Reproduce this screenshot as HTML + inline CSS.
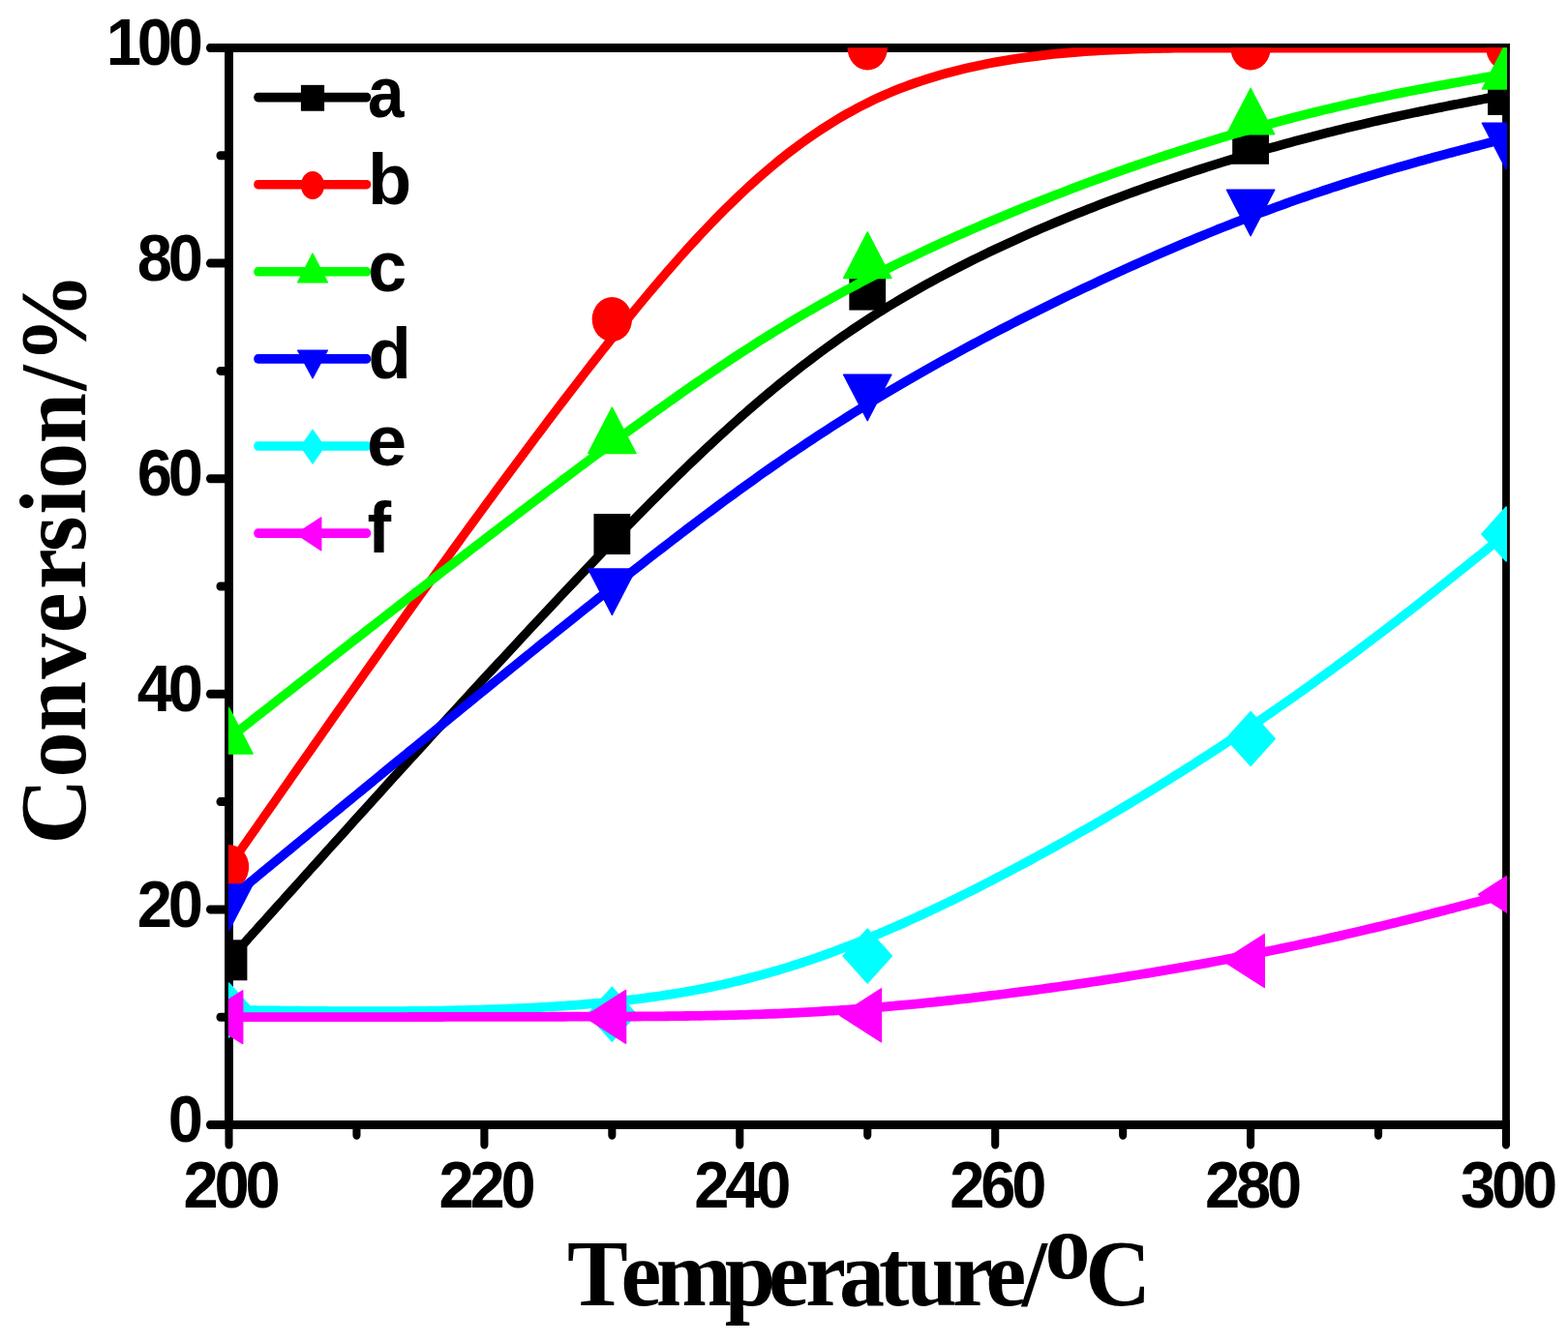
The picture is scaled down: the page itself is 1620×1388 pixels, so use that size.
<!DOCTYPE html>
<html><head><meta charset="utf-8"><title>Conversion vs Temperature</title>
<style>html,body{margin:0;padding:0;background:#fff;} body{width:1620px;height:1388px;position:relative;overflow:hidden;}</style>
</head><body>
<svg width="1620" height="1388" viewBox="0 0 1800.000 1388" preserveAspectRatio="none" style="position:absolute;left:0;top:0">
<defs><clipPath id="pc"><rect x="262.11" y="49.30" width="1467.89" height="1113.20"/></clipPath></defs>
<path d="M257.83,49.50H1733.22M257.83,1162.50H1733.22" fill="none" stroke="#000" stroke-width="9"/>
<path d="M262.78,45.00V1167.00" fill="none" stroke="#000" stroke-width="9.89"/>
<path d="M1728.89,45.00V1167.00" fill="none" stroke="#000" stroke-width="8.67"/>
<path d="M262.78,1162.50H241.11 M262.78,1051.20H252.78 M262.78,939.90H241.11 M262.78,828.60H252.78 M262.78,717.30H241.11 M262.78,606.00H252.78 M262.78,494.70H241.11 M262.78,383.40H252.78 M262.78,272.10H241.11 M262.78,160.80H252.78 M262.78,49.50H241.11 M262.78,1162.50V1183.00 M409.39,1162.50V1173.20 M556.00,1162.50V1183.00 M702.61,1162.50V1173.20 M849.22,1162.50V1183.00 M995.83,1162.50V1173.20 M1142.44,1162.50V1183.00 M1289.06,1162.50V1173.20 M1435.67,1162.50V1183.00 M1582.28,1162.50V1173.20 M1728.89,1162.50V1183.00" fill="none" stroke="#000" stroke-width="9" stroke-linecap="round"/>
<g clip-path="url(#pc)">
<path d="M262.78,992.32 L262.78,992.32 L262.78,992.32 L262.79,992.31 L262.80,992.30 L262.82,992.28 L262.85,992.25 L262.89,992.21 L262.95,992.15 L263.03,992.07 L263.12,991.98 L263.23,991.87 L263.36,991.74 L263.52,991.58 L263.71,991.39 L263.92,991.18 L264.17,990.93 L264.45,990.65 L264.76,990.34 L265.11,989.99 L265.49,989.60 L265.92,989.18 L266.39,988.70 L266.91,988.19 L267.47,987.63 L268.08,987.01 L268.74,986.35 L269.46,985.64 L270.23,984.86 L271.05,984.04 L271.94,983.15 L272.89,982.20 L273.90,981.19 L274.97,980.11 L276.12,978.97 L277.33,977.76 L278.61,976.47 L279.97,975.11 L281.40,973.68 L282.91,972.17 L284.50,970.58 L286.17,968.91 L287.92,967.15 L289.76,965.31 L291.69,963.38 L293.70,961.36 L295.81,959.25 L298.01,957.05 L300.31,954.75 L302.71,952.35 L305.20,949.85 L307.80,947.26 L310.50,944.55 L313.30,941.74 L316.22,938.83 L319.24,935.80 L322.38,932.66 L325.63,929.40 L328.99,926.03 L332.48,922.55 L336.08,918.94 L339.81,915.21 L343.65,911.36 L347.62,907.39 L351.69,903.31 L355.88,899.12 L360.18,894.83 L364.58,890.42 L369.08,885.92 L373.69,881.32 L378.39,876.62 L383.19,871.82 L388.08,866.94 L393.06,861.97 L398.13,856.91 L403.28,851.78 L408.51,846.56 L413.82,841.27 L419.21,835.91 L424.67,830.47 L430.20,824.97 L435.80,819.41 L441.47,813.78 L447.19,808.09 L452.98,802.35 L458.82,796.56 L464.72,790.72 L470.67,784.83 L476.67,778.90 L482.72,772.92 L488.80,766.91 L494.93,760.87 L501.10,754.79 L507.30,748.68 L513.54,742.54 L519.80,736.39 L526.09,730.21 L532.41,724.01 L538.75,717.80 L545.10,711.58 L551.47,705.35 L557.86,699.11 L564.26,692.87 L570.66,686.63 L577.08,680.39 L583.49,674.16 L589.90,667.93 L596.31,661.72 L602.72,655.52 L609.12,649.34 L615.50,643.18 L621.88,637.05 L628.23,630.94 L634.57,624.85 L640.89,618.80 L647.18,612.79 L653.44,606.81 L659.68,600.87 L665.88,594.98 L672.05,589.13 L678.18,583.33 L684.26,577.59 L690.31,571.89 L696.33,566.25 L702.30,560.65 L708.24,555.11 L714.14,549.62 L720.02,544.18 L725.86,538.79 L731.67,533.44 L737.45,528.15 L743.21,522.90 L748.94,517.70 L754.65,512.55 L760.33,507.44 L765.99,502.39 L771.63,497.38 L777.25,492.41 L782.86,487.49 L788.44,482.61 L794.02,477.78 L799.58,472.99 L805.12,468.25 L810.66,463.55 L816.19,458.90 L821.70,454.28 L827.22,449.71 L832.72,445.18 L838.22,440.69 L843.72,436.24 L849.22,431.84 L854.72,427.47 L860.22,423.14 L865.72,418.85 L871.23,414.61 L876.74,410.40 L882.26,406.22 L887.79,402.09 L893.32,397.99 L898.87,393.93 L904.43,389.91 L910.00,385.93 L915.59,381.97 L921.19,378.06 L926.81,374.18 L932.45,370.33 L938.12,366.52 L943.80,362.74 L949.50,359.00 L955.23,355.29 L960.99,351.61 L966.77,347.96 L972.59,344.35 L978.43,340.76 L984.30,337.21 L990.21,333.69 L996.14,330.20 L1002.12,326.74 L1008.13,323.30 L1014.18,319.90 L1020.27,316.53 L1026.40,313.18 L1032.57,309.86 L1038.77,306.57 L1045.02,303.31 L1051.29,300.08 L1057.61,296.87 L1063.95,293.70 L1070.33,290.55 L1076.73,287.43 L1083.17,284.33 L1089.63,281.27 L1096.12,278.23 L1102.63,275.23 L1109.16,272.25 L1115.72,269.29 L1122.30,266.37 L1128.89,263.47 L1135.50,260.61 L1142.13,257.77 L1148.78,254.96 L1155.44,252.17 L1162.11,249.42 L1168.79,246.69 L1175.48,243.99 L1182.18,241.32 L1188.89,238.68 L1195.60,236.06 L1202.31,233.47 L1209.03,230.92 L1215.75,228.38 L1222.47,225.88 L1229.19,223.41 L1235.90,220.96 L1242.61,218.54 L1249.32,216.15 L1256.02,213.79 L1262.71,211.45 L1269.39,209.14 L1276.06,206.86 L1282.72,204.61 L1289.37,202.39 L1296.00,200.19 L1302.61,198.03 L1309.20,195.89 L1315.78,193.77 L1322.34,191.69 L1328.87,189.63 L1335.38,187.61 L1341.87,185.61 L1348.33,183.63 L1354.77,181.69 L1361.17,179.77 L1367.55,177.88 L1373.89,176.02 L1380.21,174.19 L1386.48,172.38 L1392.73,170.60 L1398.93,168.85 L1405.10,167.13 L1411.23,165.44 L1417.32,163.77 L1423.37,162.13 L1429.37,160.52 L1435.33,158.93 L1441.25,157.38 L1447.13,155.85 L1452.96,154.34 L1458.74,152.86 L1464.48,151.41 L1470.17,149.98 L1475.81,148.58 L1481.41,147.20 L1486.96,145.85 L1492.45,144.53 L1497.90,143.22 L1503.30,141.95 L1508.64,140.69 L1513.93,139.46 L1519.17,138.26 L1524.36,137.07 L1529.49,135.92 L1534.56,134.78 L1539.59,133.67 L1544.55,132.57 L1549.46,131.51 L1554.31,130.46 L1559.10,129.43 L1563.83,128.43 L1568.50,127.45 L1573.11,126.49 L1577.67,125.55 L1582.15,124.63 L1586.58,123.73 L1590.95,122.85 L1595.24,122.00 L1599.48,121.16 L1603.65,120.34 L1607.75,119.54 L1611.79,118.76 L1615.76,118.00 L1619.67,117.26 L1623.50,116.53 L1627.26,115.83 L1630.96,115.14 L1634.58,114.47 L1638.14,113.82 L1641.62,113.18 L1645.03,112.56 L1648.36,111.96 L1651.62,111.38 L1654.81,110.81 L1657.92,110.26 L1660.96,109.72 L1663.92,109.20 L1666.80,108.69 L1669.60,108.20 L1672.32,107.73 L1674.97,107.27 L1677.53,106.82 L1680.02,106.39 L1682.46,105.97 L1684.82,105.56 L1687.10,105.16 L1689.30,104.78 L1691.42,104.42 L1693.46,104.06 L1695.43,103.72 L1697.32,103.39 L1699.14,103.08 L1700.89,102.77 L1702.57,102.48 L1704.18,102.20 L1705.73,101.93 L1707.21,101.68 L1708.62,101.43 L1709.97,101.20 L1711.26,100.97 L1712.49,100.76 L1713.66,100.56 L1714.77,100.36 L1715.83,100.18 L1716.84,100.01 L1717.79,99.84 L1718.69,99.69 L1719.54,99.54 L1720.34,99.40 L1721.09,99.27 L1721.80,99.15 L1722.46,99.03 L1723.09,98.92 L1723.67,98.82 L1724.21,98.73 L1724.71,98.64 L1725.17,98.56 L1725.60,98.49 L1725.99,98.42 L1726.36,98.36 L1726.69,98.30 L1726.99,98.25 L1727.26,98.20 L1727.50,98.16 L1727.72,98.12 L1727.91,98.08 L1728.09,98.05 L1728.24,98.03 L1728.37,98.01 L1728.48,97.99 L1728.57,97.97 L1728.65,97.96 L1728.72,97.95 L1728.77,97.94 L1728.81,97.93 L1728.84,97.92 L1728.86,97.92 L1728.87,97.92 L1728.88,97.92 L1728.89,97.92 L1728.89,97.92 L1728.89,97.92" fill="none" stroke="#000000" stroke-width="9.8" stroke-linejoin="round"/>
<rect x="241.78" y="971.32" width="42.00" height="42.00" fill="#000000"/>
<rect x="681.61" y="531.02" width="42.00" height="42.00" fill="#000000"/>
<rect x="974.83" y="278.59" width="42.00" height="42.00" fill="#000000"/>
<rect x="1414.67" y="127.78" width="42.00" height="42.00" fill="#000000"/>
<rect x="1707.89" y="76.92" width="42.00" height="42.00" fill="#000000"/>
<path d="M262.78,895.94 L262.78,895.94 L262.78,895.93 L262.79,895.92 L262.80,895.91 L262.82,895.88 L262.85,895.84 L262.89,895.79 L262.95,895.71 L263.03,895.62 L263.12,895.50 L263.23,895.36 L263.36,895.18 L263.52,894.98 L263.71,894.74 L263.92,894.46 L264.17,894.15 L264.45,893.79 L264.76,893.39 L265.11,892.94 L265.49,892.44 L265.92,891.89 L266.39,891.29 L266.91,890.62 L267.47,889.90 L268.08,889.11 L268.74,888.26 L269.46,887.34 L270.23,886.35 L271.05,885.29 L271.94,884.15 L272.89,882.93 L273.90,881.63 L274.97,880.24 L276.12,878.77 L277.33,877.21 L278.61,875.56 L279.97,873.82 L281.40,871.97 L282.91,870.03 L284.50,867.99 L286.17,865.84 L287.92,863.58 L289.76,861.22 L291.69,858.74 L293.70,856.14 L295.81,853.43 L298.01,850.60 L300.31,847.64 L302.71,844.56 L305.20,841.35 L307.80,838.01 L310.50,834.53 L313.30,830.92 L316.22,827.17 L319.24,823.28 L322.38,819.25 L325.63,815.06 L328.99,810.73 L332.48,806.25 L336.08,801.61 L339.81,796.82 L343.65,791.87 L347.62,786.77 L351.69,781.53 L355.88,776.15 L360.18,770.62 L364.58,764.97 L369.08,759.18 L373.69,753.27 L378.39,747.24 L383.19,741.09 L388.08,734.83 L393.06,728.46 L398.13,721.98 L403.28,715.40 L408.51,708.72 L413.82,701.94 L419.21,695.08 L424.67,688.13 L430.20,681.10 L435.80,673.99 L441.47,666.80 L447.19,659.55 L452.98,652.22 L458.82,644.84 L464.72,637.39 L470.67,629.90 L476.67,622.35 L482.72,614.75 L488.80,607.11 L494.93,599.44 L501.10,591.72 L507.30,583.98 L513.54,576.21 L519.80,568.41 L526.09,560.60 L532.41,552.77 L538.75,544.93 L545.10,537.08 L551.47,529.23 L557.86,521.38 L564.26,513.54 L570.66,505.70 L577.08,497.87 L583.49,490.07 L589.90,482.28 L596.31,474.51 L602.72,466.77 L609.12,459.07 L615.50,451.40 L621.88,443.77 L628.23,436.19 L634.57,428.65 L640.89,421.16 L647.18,413.73 L653.44,406.36 L659.68,399.06 L665.88,391.82 L672.05,384.65 L678.18,377.56 L684.26,370.54 L690.31,363.61 L696.33,356.75 L702.30,349.98 L708.24,343.28 L714.14,336.66 L720.02,330.12 L725.86,323.66 L731.67,317.28 L737.45,310.98 L743.21,304.76 L748.94,298.62 L754.65,292.55 L760.33,286.57 L765.99,280.66 L771.63,274.83 L777.25,269.08 L782.86,263.42 L788.44,257.83 L794.02,252.31 L799.58,246.88 L805.12,241.53 L810.66,236.25 L816.19,231.05 L821.70,225.94 L827.22,220.90 L832.72,215.94 L838.22,211.06 L843.72,206.25 L849.22,201.53 L854.72,196.88 L860.22,192.32 L865.72,187.83 L871.23,183.42 L876.74,179.09 L882.26,174.83 L887.79,170.66 L893.32,166.56 L898.87,162.54 L904.43,158.60 L910.00,154.74 L915.59,150.96 L921.19,147.26 L926.81,143.63 L932.45,140.08 L938.12,136.61 L943.80,133.22 L949.50,129.91 L955.23,126.67 L960.99,123.52 L966.77,120.44 L972.59,117.44 L978.43,114.52 L984.30,111.67 L990.21,108.91 L996.14,106.22 L1002.12,103.61 L1008.13,101.08 L1014.18,98.62 L1020.27,96.25 L1026.40,93.95 L1032.57,91.73 L1038.77,89.58 L1045.02,87.51 L1051.29,85.51 L1057.61,83.58 L1063.95,81.72 L1070.33,79.93 L1076.73,78.21 L1083.17,76.55 L1089.63,74.96 L1096.12,73.43 L1102.63,71.97 L1109.16,70.57 L1115.72,69.22 L1122.30,67.94 L1128.89,66.71 L1135.50,65.53 L1142.13,64.42 L1148.78,63.35 L1155.44,62.34 L1162.11,61.38 L1168.79,60.46 L1175.48,59.60 L1182.18,58.78 L1188.89,58.01 L1195.60,57.28 L1202.31,56.59 L1209.03,55.95 L1215.75,55.34 L1222.47,54.78 L1229.19,54.25 L1235.90,53.76 L1242.61,53.30 L1249.32,52.88 L1256.02,52.49 L1262.71,52.13 L1269.39,51.80 L1276.06,51.50 L1282.72,51.23 L1289.37,50.98 L1296.00,50.76 L1302.61,50.56 L1309.20,50.39 L1315.78,50.23 L1322.34,50.09 L1328.87,49.98 L1335.38,49.87 L1341.87,49.79 L1348.33,49.72 L1354.77,49.66 L1361.17,49.61 L1367.55,49.57 L1373.89,49.55 L1380.21,49.53 L1386.48,49.51 L1392.73,49.51 L1398.93,49.50 L1405.10,49.50 L1411.23,49.50 L1417.32,49.50 L1423.37,49.50 L1429.37,49.50 L1435.33,49.50 L1441.25,49.50 L1447.13,49.50 L1452.96,49.50 L1458.74,49.50 L1464.48,49.50 L1470.17,49.50 L1475.81,49.50 L1481.41,49.50 L1486.96,49.50 L1492.45,49.50 L1497.90,49.50 L1503.30,49.50 L1508.64,49.50 L1513.93,49.50 L1519.17,49.50 L1524.36,49.50 L1529.49,49.50 L1534.56,49.50 L1539.59,49.50 L1544.55,49.50 L1549.46,49.50 L1554.31,49.50 L1559.10,49.50 L1563.83,49.50 L1568.50,49.50 L1573.11,49.50 L1577.67,49.50 L1582.15,49.50 L1586.58,49.50 L1590.95,49.50 L1595.24,49.50 L1599.48,49.50 L1603.65,49.50 L1607.75,49.50 L1611.79,49.50 L1615.76,49.50 L1619.67,49.50 L1623.50,49.50 L1627.26,49.50 L1630.96,49.50 L1634.58,49.50 L1638.14,49.50 L1641.62,49.50 L1645.03,49.50 L1648.36,49.50 L1651.62,49.50 L1654.81,49.50 L1657.92,49.50 L1660.96,49.50 L1663.92,49.50 L1666.80,49.50 L1669.60,49.50 L1672.32,49.50 L1674.97,49.50 L1677.53,49.50 L1680.02,49.50 L1682.46,49.50 L1684.82,49.50 L1687.10,49.50 L1689.30,49.50 L1691.42,49.50 L1693.46,49.50 L1695.43,49.50 L1697.32,49.50 L1699.14,49.50 L1700.89,49.50 L1702.57,49.50 L1704.18,49.50 L1705.73,49.50 L1707.21,49.50 L1708.62,49.50 L1709.97,49.50 L1711.26,49.50 L1712.49,49.50 L1713.66,49.50 L1714.77,49.50 L1715.83,49.50 L1716.84,49.50 L1717.79,49.50 L1718.69,49.50 L1719.54,49.50 L1720.34,49.50 L1721.09,49.50 L1721.80,49.50 L1722.46,49.50 L1723.09,49.50 L1723.67,49.50 L1724.21,49.50 L1724.71,49.50 L1725.17,49.50 L1725.60,49.50 L1725.99,49.50 L1726.36,49.50 L1726.69,49.50 L1726.99,49.50 L1727.26,49.50 L1727.50,49.50 L1727.72,49.50 L1727.91,49.50 L1728.09,49.50 L1728.24,49.50 L1728.37,49.50 L1728.48,49.50 L1728.57,49.50 L1728.65,49.50 L1728.72,49.50 L1728.77,49.50 L1728.81,49.50 L1728.84,49.50 L1728.86,49.50 L1728.87,49.50 L1728.88,49.50 L1728.89,49.50 L1728.89,49.50 L1728.89,49.50" fill="none" stroke="#ff0000" stroke-width="9.8" stroke-linejoin="round"/>
<circle cx="262.78" cy="895.94" r="23.00" fill="#ff0000"/>
<circle cx="702.61" cy="329.98" r="23.00" fill="#ff0000"/>
<circle cx="995.83" cy="49.50" r="23.00" fill="#ff0000"/>
<circle cx="1435.67" cy="49.50" r="23.00" fill="#ff0000"/>
<circle cx="1728.89" cy="49.50" r="23.00" fill="#ff0000"/>
<path d="M262.78,763.16 L262.78,763.16 L262.78,763.15 L262.79,763.15 L262.80,763.14 L262.82,763.13 L262.85,763.10 L262.89,763.07 L262.95,763.03 L263.03,762.98 L263.12,762.92 L263.23,762.84 L263.36,762.74 L263.52,762.63 L263.71,762.50 L263.92,762.35 L264.17,762.17 L264.45,761.98 L264.76,761.76 L265.11,761.51 L265.49,761.24 L265.92,760.94 L266.39,760.61 L266.91,760.24 L267.47,759.84 L268.08,759.41 L268.74,758.95 L269.46,758.44 L270.23,757.90 L271.05,757.31 L271.94,756.69 L272.89,756.02 L273.90,755.31 L274.97,754.55 L276.12,753.74 L277.33,752.89 L278.61,751.98 L279.97,751.02 L281.40,750.01 L282.91,748.95 L284.50,747.83 L286.17,746.65 L287.92,745.41 L289.76,744.11 L291.69,742.75 L293.70,741.33 L295.81,739.84 L298.01,738.29 L300.31,736.67 L302.71,734.98 L305.20,733.22 L307.80,731.38 L310.50,729.48 L313.30,727.50 L316.22,725.44 L319.24,723.31 L322.38,721.09 L325.63,718.80 L328.99,716.42 L332.48,713.96 L336.08,711.42 L339.81,708.79 L343.65,706.08 L347.62,703.28 L351.69,700.40 L355.88,697.45 L360.18,694.42 L364.58,691.32 L369.08,688.14 L373.69,684.89 L378.39,681.58 L383.19,678.20 L388.08,674.76 L393.06,671.25 L398.13,667.69 L403.28,664.06 L408.51,660.38 L413.82,656.65 L419.21,652.87 L424.67,649.03 L430.20,645.15 L435.80,641.23 L441.47,637.26 L447.19,633.24 L452.98,629.19 L458.82,625.11 L464.72,620.98 L470.67,616.83 L476.67,612.64 L482.72,608.42 L488.80,604.18 L494.93,599.91 L501.10,595.61 L507.30,591.30 L513.54,586.97 L519.80,582.62 L526.09,578.25 L532.41,573.87 L538.75,569.48 L545.10,565.09 L551.47,560.68 L557.86,556.27 L564.26,551.86 L570.66,547.45 L577.08,543.04 L583.49,538.63 L589.90,534.23 L596.31,529.83 L602.72,525.45 L609.12,521.07 L615.50,516.71 L621.88,512.37 L628.23,508.04 L634.57,503.73 L640.89,499.44 L647.18,495.18 L653.44,490.94 L659.68,486.74 L665.88,482.56 L672.05,478.41 L678.18,474.29 L684.26,470.22 L690.31,466.17 L696.33,462.17 L702.30,458.19 L708.24,454.26 L714.14,450.35 L720.02,446.48 L725.86,442.64 L731.67,438.83 L737.45,435.06 L743.21,431.31 L748.94,427.60 L754.65,423.92 L760.33,420.27 L765.99,416.65 L771.63,413.05 L777.25,409.49 L782.86,405.95 L788.44,402.45 L794.02,398.96 L799.58,395.51 L805.12,392.08 L810.66,388.68 L816.19,385.31 L821.70,381.96 L827.22,378.63 L832.72,375.33 L838.22,372.05 L843.72,368.80 L849.22,365.57 L854.72,362.36 L860.22,359.17 L865.72,356.01 L871.23,352.86 L876.74,349.74 L882.26,346.63 L887.79,343.55 L893.32,340.49 L898.87,337.44 L904.43,334.41 L910.00,331.41 L915.59,328.41 L921.19,325.44 L926.81,322.48 L932.45,319.54 L938.12,316.61 L943.80,313.70 L949.50,310.81 L955.23,307.93 L960.99,305.06 L966.77,302.21 L972.59,299.36 L978.43,296.54 L984.30,293.72 L990.21,290.92 L996.14,288.12 L1002.12,285.34 L1008.13,282.57 L1014.18,279.81 L1020.27,277.05 L1026.40,274.31 L1032.57,271.57 L1038.77,268.85 L1045.02,266.14 L1051.29,263.43 L1057.61,260.74 L1063.95,258.05 L1070.33,255.38 L1076.73,252.72 L1083.17,250.07 L1089.63,247.44 L1096.12,244.82 L1102.63,242.20 L1109.16,239.61 L1115.72,237.02 L1122.30,234.45 L1128.89,231.90 L1135.50,229.36 L1142.13,226.83 L1148.78,224.32 L1155.44,221.82 L1162.11,219.34 L1168.79,216.88 L1175.48,214.43 L1182.18,212.00 L1188.89,209.58 L1195.60,207.19 L1202.31,204.81 L1209.03,202.45 L1215.75,200.11 L1222.47,197.78 L1229.19,195.48 L1235.90,193.19 L1242.61,190.92 L1249.32,188.68 L1256.02,186.45 L1262.71,184.25 L1269.39,182.06 L1276.06,179.90 L1282.72,177.76 L1289.37,175.64 L1296.00,173.54 L1302.61,171.47 L1309.20,169.41 L1315.78,167.38 L1322.34,165.38 L1328.87,163.40 L1335.38,161.44 L1341.87,159.51 L1348.33,157.60 L1354.77,155.72 L1361.17,153.86 L1367.55,152.03 L1373.89,150.22 L1380.21,148.44 L1386.48,146.69 L1392.73,144.96 L1398.93,143.26 L1405.10,141.59 L1411.23,139.95 L1417.32,138.34 L1423.37,136.75 L1429.37,135.19 L1435.33,133.66 L1441.25,132.16 L1447.13,130.68 L1452.96,129.23 L1458.74,127.80 L1464.48,126.41 L1470.17,125.04 L1475.81,123.69 L1481.41,122.37 L1486.96,121.08 L1492.45,119.81 L1497.90,118.56 L1503.30,117.34 L1508.64,116.14 L1513.93,114.97 L1519.17,113.82 L1524.36,112.70 L1529.49,111.60 L1534.56,110.52 L1539.59,109.46 L1544.55,108.43 L1549.46,107.42 L1554.31,106.43 L1559.10,105.46 L1563.83,104.51 L1568.50,103.59 L1573.11,102.68 L1577.67,101.80 L1582.15,100.94 L1586.58,100.09 L1590.95,99.27 L1595.24,98.47 L1599.48,97.68 L1603.65,96.92 L1607.75,96.17 L1611.79,95.44 L1615.76,94.73 L1619.67,94.04 L1623.50,93.37 L1627.26,92.71 L1630.96,92.07 L1634.58,91.45 L1638.14,90.85 L1641.62,90.26 L1645.03,89.69 L1648.36,89.13 L1651.62,88.59 L1654.81,88.07 L1657.92,87.56 L1660.96,87.06 L1663.92,86.58 L1666.80,86.12 L1669.60,85.67 L1672.32,85.23 L1674.97,84.81 L1677.53,84.40 L1680.02,84.00 L1682.46,83.61 L1684.82,83.24 L1687.10,82.87 L1689.30,82.52 L1691.42,82.19 L1693.46,81.86 L1695.43,81.55 L1697.32,81.24 L1699.14,80.95 L1700.89,80.67 L1702.57,80.41 L1704.18,80.15 L1705.73,79.90 L1707.21,79.67 L1708.62,79.44 L1709.97,79.23 L1711.26,79.02 L1712.49,78.83 L1713.66,78.64 L1714.77,78.46 L1715.83,78.29 L1716.84,78.13 L1717.79,77.98 L1718.69,77.84 L1719.54,77.70 L1720.34,77.58 L1721.09,77.46 L1721.80,77.34 L1722.46,77.24 L1723.09,77.14 L1723.67,77.04 L1724.21,76.96 L1724.71,76.88 L1725.17,76.80 L1725.60,76.74 L1725.99,76.67 L1726.36,76.62 L1726.69,76.56 L1726.99,76.52 L1727.26,76.47 L1727.50,76.43 L1727.72,76.40 L1727.91,76.37 L1728.09,76.34 L1728.24,76.32 L1728.37,76.30 L1728.48,76.28 L1728.57,76.26 L1728.65,76.25 L1728.72,76.24 L1728.77,76.23 L1728.81,76.23 L1728.84,76.22 L1728.86,76.22 L1728.87,76.21 L1728.88,76.21 L1728.89,76.21 L1728.89,76.21 L1728.89,76.21" fill="none" stroke="#00ff00" stroke-width="9.8" stroke-linejoin="round"/>
<polygon points="262.78,731.49 290.20,778.99 235.35,778.99" fill="#00ff00" stroke="#00ff00" stroke-width="1.5" stroke-linejoin="round"/>
<polygon points="702.61,421.07 730.04,468.57 675.19,468.57" fill="#00ff00" stroke="#00ff00" stroke-width="1.5" stroke-linejoin="round"/>
<polygon points="995.83,239.99 1023.26,287.49 968.41,287.49" fill="#00ff00" stroke="#00ff00" stroke-width="1.5" stroke-linejoin="round"/>
<polygon points="1435.67,91.29 1463.09,138.79 1408.24,138.79" fill="#00ff00" stroke="#00ff00" stroke-width="1.5" stroke-linejoin="round"/>
<polygon points="1728.89,44.55 1756.31,92.05 1701.46,92.05" fill="#00ff00" stroke="#00ff00" stroke-width="1.5" stroke-linejoin="round"/>
<path d="M262.78,929.88 L262.78,929.88 L262.78,929.88 L262.79,929.88 L262.80,929.87 L262.82,929.85 L262.85,929.83 L262.89,929.80 L262.95,929.75 L263.03,929.70 L263.12,929.63 L263.23,929.55 L263.36,929.45 L263.52,929.33 L263.71,929.19 L263.92,929.03 L264.17,928.85 L264.45,928.65 L264.76,928.42 L265.11,928.16 L265.49,927.87 L265.92,927.55 L266.39,927.20 L266.91,926.82 L267.47,926.40 L268.08,925.95 L268.74,925.46 L269.46,924.93 L270.23,924.36 L271.05,923.75 L271.94,923.09 L272.89,922.39 L273.90,921.64 L274.97,920.84 L276.12,919.99 L277.33,919.09 L278.61,918.14 L279.97,917.14 L281.40,916.08 L282.91,914.96 L284.50,913.78 L286.17,912.54 L287.92,911.24 L289.76,909.88 L291.69,908.45 L293.70,906.95 L295.81,905.39 L298.01,903.76 L300.31,902.06 L302.71,900.28 L305.20,898.43 L307.80,896.50 L310.50,894.50 L313.30,892.42 L316.22,890.26 L319.24,888.02 L322.38,885.69 L325.63,883.28 L328.99,880.79 L332.48,878.20 L336.08,875.53 L339.81,872.77 L343.65,869.92 L347.62,866.98 L351.69,863.96 L355.88,860.85 L360.18,857.67 L364.58,854.41 L369.08,851.07 L373.69,847.66 L378.39,844.17 L383.19,840.62 L388.08,837.00 L393.06,833.31 L398.13,829.56 L403.28,825.75 L408.51,821.88 L413.82,817.95 L419.21,813.97 L424.67,809.94 L430.20,805.85 L435.80,801.71 L441.47,797.53 L447.19,793.31 L452.98,789.04 L458.82,784.73 L464.72,780.38 L470.67,775.99 L476.67,771.58 L482.72,767.13 L488.80,762.65 L494.93,758.14 L501.10,753.60 L507.30,749.05 L513.54,744.47 L519.80,739.87 L526.09,735.25 L532.41,730.62 L538.75,725.97 L545.10,721.32 L551.47,716.65 L557.86,711.98 L564.26,707.30 L570.66,702.62 L577.08,697.94 L583.49,693.26 L589.90,688.59 L596.31,683.92 L602.72,679.26 L609.12,674.60 L615.50,669.96 L621.88,665.33 L628.23,660.72 L634.57,656.13 L640.89,651.56 L647.18,647.01 L653.44,642.48 L659.68,637.98 L665.88,633.51 L672.05,629.07 L678.18,624.66 L684.26,620.29 L690.31,615.95 L696.33,611.64 L702.30,607.37 L708.24,603.13 L714.14,598.92 L720.02,594.75 L725.86,590.60 L731.67,586.49 L737.45,582.40 L743.21,578.35 L748.94,574.32 L754.65,570.33 L760.33,566.36 L765.99,562.42 L771.63,558.50 L777.25,554.61 L782.86,550.75 L788.44,546.91 L794.02,543.09 L799.58,539.31 L805.12,535.54 L810.66,531.80 L816.19,528.08 L821.70,524.38 L827.22,520.70 L832.72,517.04 L838.22,513.41 L843.72,509.79 L849.22,506.20 L854.72,502.62 L860.22,499.06 L865.72,495.52 L871.23,491.99 L876.74,488.48 L882.26,484.99 L887.79,481.52 L893.32,478.05 L898.87,474.61 L904.43,471.17 L910.00,467.75 L915.59,464.35 L921.19,460.95 L926.81,457.57 L932.45,454.20 L938.12,450.84 L943.80,447.49 L949.50,444.15 L955.23,440.82 L960.99,437.49 L966.77,434.18 L972.59,430.87 L978.43,427.57 L984.30,424.28 L990.21,420.99 L996.14,417.71 L1002.12,414.43 L1008.13,411.16 L1014.18,407.89 L1020.27,404.62 L1026.40,401.36 L1032.57,398.10 L1038.77,394.84 L1045.02,391.59 L1051.29,388.34 L1057.61,385.10 L1063.95,381.86 L1070.33,378.63 L1076.73,375.41 L1083.17,372.20 L1089.63,368.99 L1096.12,365.79 L1102.63,362.60 L1109.16,359.42 L1115.72,356.25 L1122.30,353.09 L1128.89,349.94 L1135.50,346.80 L1142.13,343.67 L1148.78,340.56 L1155.44,337.46 L1162.11,334.38 L1168.79,331.30 L1175.48,328.25 L1182.18,325.20 L1188.89,322.18 L1195.60,319.17 L1202.31,316.17 L1209.03,313.20 L1215.75,310.24 L1222.47,307.30 L1229.19,304.38 L1235.90,301.48 L1242.61,298.59 L1249.32,295.73 L1256.02,292.89 L1262.71,290.07 L1269.39,287.27 L1276.06,284.50 L1282.72,281.75 L1289.37,279.02 L1296.00,276.31 L1302.61,273.63 L1309.20,270.98 L1315.78,268.35 L1322.34,265.74 L1328.87,263.17 L1335.38,260.62 L1341.87,258.10 L1348.33,255.60 L1354.77,253.14 L1361.17,250.70 L1367.55,248.30 L1373.89,245.92 L1380.21,243.57 L1386.48,241.26 L1392.73,238.98 L1398.93,236.73 L1405.10,234.51 L1411.23,232.33 L1417.32,230.18 L1423.37,228.06 L1429.37,225.98 L1435.33,223.93 L1441.25,221.91 L1447.13,219.93 L1452.96,217.98 L1458.74,216.06 L1464.48,214.17 L1470.17,212.32 L1475.81,210.49 L1481.41,208.70 L1486.96,206.94 L1492.45,205.20 L1497.90,203.50 L1503.30,201.83 L1508.64,200.19 L1513.93,198.58 L1519.17,197.00 L1524.36,195.45 L1529.49,193.92 L1534.56,192.43 L1539.59,190.96 L1544.55,189.52 L1549.46,188.11 L1554.31,186.73 L1559.10,185.38 L1563.83,184.05 L1568.50,182.75 L1573.11,181.47 L1577.67,180.23 L1582.15,179.01 L1586.58,177.81 L1590.95,176.64 L1595.24,175.50 L1599.48,174.38 L1603.65,173.29 L1607.75,172.22 L1611.79,171.17 L1615.76,170.15 L1619.67,169.16 L1623.50,168.19 L1627.26,167.24 L1630.96,166.31 L1634.58,165.41 L1638.14,164.53 L1641.62,163.68 L1645.03,162.84 L1648.36,162.03 L1651.62,161.24 L1654.81,160.47 L1657.92,159.73 L1660.96,159.00 L1663.92,158.30 L1666.80,157.61 L1669.60,156.95 L1672.32,156.31 L1674.97,155.68 L1677.53,155.08 L1680.02,154.49 L1682.46,153.92 L1684.82,153.36 L1687.10,152.83 L1689.30,152.31 L1691.42,151.81 L1693.46,151.33 L1695.43,150.87 L1697.32,150.42 L1699.14,149.99 L1700.89,149.58 L1702.57,149.19 L1704.18,148.81 L1705.73,148.44 L1707.21,148.09 L1708.62,147.76 L1709.97,147.44 L1711.26,147.14 L1712.49,146.85 L1713.66,146.58 L1714.77,146.31 L1715.83,146.06 L1716.84,145.83 L1717.79,145.60 L1718.69,145.39 L1719.54,145.19 L1720.34,145.00 L1721.09,144.83 L1721.80,144.66 L1722.46,144.50 L1723.09,144.36 L1723.67,144.22 L1724.21,144.09 L1724.71,143.98 L1725.17,143.87 L1725.60,143.77 L1725.99,143.67 L1726.36,143.59 L1726.69,143.51 L1726.99,143.44 L1727.26,143.38 L1727.50,143.32 L1727.72,143.27 L1727.91,143.22 L1728.09,143.18 L1728.24,143.15 L1728.37,143.12 L1728.48,143.09 L1728.57,143.07 L1728.65,143.05 L1728.72,143.03 L1728.77,143.02 L1728.81,143.01 L1728.84,143.00 L1728.86,143.00 L1728.87,143.00 L1728.88,142.99 L1728.89,142.99 L1728.89,142.99 L1728.89,142.99" fill="none" stroke="#0000ff" stroke-width="9.8" stroke-linejoin="round"/>
<polygon points="262.78,961.55 290.20,914.05 235.35,914.05" fill="#0000ff" stroke="#0000ff" stroke-width="1.5" stroke-linejoin="round"/>
<polygon points="702.61,635.44 730.04,587.94 675.19,587.94" fill="#0000ff" stroke="#0000ff" stroke-width="1.5" stroke-linejoin="round"/>
<polygon points="995.83,434.66 1023.26,387.16 968.41,387.16" fill="#0000ff" stroke="#0000ff" stroke-width="1.5" stroke-linejoin="round"/>
<polygon points="1435.67,243.66 1463.09,196.16 1408.24,196.16" fill="#0000ff" stroke="#0000ff" stroke-width="1.5" stroke-linejoin="round"/>
<polygon points="1728.89,174.66 1756.31,127.16 1701.46,127.16" fill="#0000ff" stroke="#0000ff" stroke-width="1.5" stroke-linejoin="round"/>
<path d="M262.78,1043.97 L262.78,1043.97 L262.78,1043.97 L262.79,1043.97 L262.80,1043.97 L262.82,1043.97 L262.85,1043.97 L262.89,1043.97 L262.95,1043.97 L263.03,1043.97 L263.12,1043.97 L263.23,1043.97 L263.36,1043.97 L263.52,1043.97 L263.71,1043.97 L263.92,1043.98 L264.17,1043.98 L264.45,1043.98 L264.76,1043.98 L265.11,1043.99 L265.49,1043.99 L265.92,1044.00 L266.39,1044.00 L266.91,1044.01 L267.47,1044.01 L268.08,1044.02 L268.74,1044.02 L269.46,1044.03 L270.23,1044.04 L271.05,1044.05 L271.94,1044.05 L272.89,1044.06 L273.90,1044.07 L274.97,1044.08 L276.12,1044.09 L277.33,1044.11 L278.61,1044.12 L279.97,1044.13 L281.40,1044.14 L282.91,1044.16 L284.50,1044.17 L286.17,1044.19 L287.92,1044.21 L289.76,1044.22 L291.69,1044.24 L293.70,1044.26 L295.81,1044.28 L298.01,1044.30 L300.31,1044.33 L302.71,1044.35 L305.20,1044.37 L307.80,1044.40 L310.50,1044.42 L313.30,1044.45 L316.22,1044.48 L319.24,1044.51 L322.38,1044.54 L325.63,1044.57 L328.99,1044.60 L332.48,1044.64 L336.08,1044.67 L339.81,1044.71 L343.65,1044.74 L347.62,1044.78 L351.69,1044.82 L355.88,1044.85 L360.18,1044.89 L364.58,1044.93 L369.08,1044.96 L373.69,1045.00 L378.39,1045.03 L383.19,1045.06 L388.08,1045.09 L393.06,1045.11 L398.13,1045.13 L403.28,1045.15 L408.51,1045.17 L413.82,1045.18 L419.21,1045.19 L424.67,1045.19 L430.20,1045.19 L435.80,1045.18 L441.47,1045.17 L447.19,1045.15 L452.98,1045.12 L458.82,1045.09 L464.72,1045.05 L470.67,1045.01 L476.67,1044.96 L482.72,1044.90 L488.80,1044.83 L494.93,1044.75 L501.10,1044.67 L507.30,1044.57 L513.54,1044.47 L519.80,1044.36 L526.09,1044.23 L532.41,1044.10 L538.75,1043.96 L545.10,1043.80 L551.47,1043.63 L557.86,1043.46 L564.26,1043.27 L570.66,1043.07 L577.08,1042.85 L583.49,1042.63 L589.90,1042.39 L596.31,1042.13 L602.72,1041.87 L609.12,1041.58 L615.50,1041.29 L621.88,1040.98 L628.23,1040.65 L634.57,1040.31 L640.89,1039.96 L647.18,1039.58 L653.44,1039.20 L659.68,1038.79 L665.88,1038.37 L672.05,1037.93 L678.18,1037.47 L684.26,1037.00 L690.31,1036.51 L696.33,1035.99 L702.30,1035.46 L708.24,1034.91 L714.14,1034.34 L720.02,1033.75 L725.86,1033.14 L731.67,1032.50 L737.45,1031.85 L743.21,1031.17 L748.94,1030.47 L754.65,1029.74 L760.33,1028.99 L765.99,1028.22 L771.63,1027.42 L777.25,1026.60 L782.86,1025.75 L788.44,1024.87 L794.02,1023.97 L799.58,1023.04 L805.12,1022.08 L810.66,1021.10 L816.19,1020.08 L821.70,1019.04 L827.22,1017.97 L832.72,1016.87 L838.22,1015.73 L843.72,1014.57 L849.22,1013.38 L854.72,1012.15 L860.22,1010.89 L865.72,1009.60 L871.23,1008.28 L876.74,1006.92 L882.26,1005.53 L887.79,1004.10 L893.32,1002.64 L898.87,1001.14 L904.43,999.61 L910.00,998.04 L915.59,996.43 L921.19,994.79 L926.81,993.10 L932.45,991.38 L938.12,989.63 L943.80,987.83 L949.50,985.99 L955.23,984.11 L960.99,982.19 L966.77,980.23 L972.59,978.23 L978.43,976.19 L984.30,974.11 L990.21,971.98 L996.14,969.81 L1002.12,967.59 L1008.13,965.33 L1014.18,963.03 L1020.27,960.68 L1026.40,958.28 L1032.57,955.84 L1038.77,953.36 L1045.02,950.83 L1051.29,948.26 L1057.61,945.65 L1063.95,943.00 L1070.33,940.30 L1076.73,937.57 L1083.17,934.80 L1089.63,932.00 L1096.12,929.15 L1102.63,926.27 L1109.16,923.36 L1115.72,920.41 L1122.30,917.43 L1128.89,914.41 L1135.50,911.37 L1142.13,908.29 L1148.78,905.18 L1155.44,902.05 L1162.11,898.88 L1168.79,895.69 L1175.48,892.47 L1182.18,889.22 L1188.89,885.95 L1195.60,882.66 L1202.31,879.34 L1209.03,876.00 L1215.75,872.64 L1222.47,869.25 L1229.19,865.85 L1235.90,862.42 L1242.61,858.98 L1249.32,855.52 L1256.02,852.04 L1262.71,848.55 L1269.39,845.04 L1276.06,841.52 L1282.72,837.98 L1289.37,834.44 L1296.00,830.87 L1302.61,827.30 L1309.20,823.72 L1315.78,820.13 L1322.34,816.53 L1328.87,812.92 L1335.38,809.30 L1341.87,805.68 L1348.33,802.05 L1354.77,798.42 L1361.17,794.78 L1367.55,791.15 L1373.89,787.50 L1380.21,783.86 L1386.48,780.22 L1392.73,776.58 L1398.93,772.94 L1405.10,769.30 L1411.23,765.66 L1417.32,762.03 L1423.37,758.40 L1429.37,754.78 L1435.33,751.16 L1441.25,747.55 L1447.13,743.95 L1452.96,740.36 L1458.74,736.78 L1464.48,733.20 L1470.17,729.65 L1475.81,726.10 L1481.41,722.57 L1486.96,719.05 L1492.45,715.55 L1497.90,712.06 L1503.30,708.59 L1508.64,705.14 L1513.93,701.71 L1519.17,698.30 L1524.36,694.91 L1529.49,691.54 L1534.56,688.20 L1539.59,684.88 L1544.55,681.58 L1549.46,678.31 L1554.31,675.07 L1559.10,671.85 L1563.83,668.66 L1568.50,665.51 L1573.11,662.38 L1577.67,659.28 L1582.15,656.22 L1586.58,653.18 L1590.95,650.19 L1595.24,647.22 L1599.48,644.30 L1603.65,641.41 L1607.75,638.55 L1611.79,635.74 L1615.76,632.96 L1619.67,630.23 L1623.50,627.54 L1627.26,624.89 L1630.96,622.28 L1634.58,619.71 L1638.14,617.20 L1641.62,614.72 L1645.03,612.30 L1648.36,609.92 L1651.62,607.59 L1654.81,605.31 L1657.92,603.08 L1660.96,600.90 L1663.92,598.78 L1666.80,596.70 L1669.60,594.68 L1672.32,592.72 L1674.97,590.81 L1677.53,588.96 L1680.02,587.17 L1682.46,585.41 L1684.82,583.71 L1687.10,582.06 L1689.30,580.47 L1691.42,578.94 L1693.46,577.47 L1695.43,576.05 L1697.32,574.68 L1699.14,573.37 L1700.89,572.11 L1702.57,570.90 L1704.18,569.73 L1705.73,568.62 L1707.21,567.55 L1708.62,566.53 L1709.97,565.56 L1711.26,564.63 L1712.49,563.74 L1713.66,562.90 L1714.77,562.09 L1715.83,561.33 L1716.84,560.61 L1717.79,559.92 L1718.69,559.27 L1719.54,558.66 L1720.34,558.08 L1721.09,557.53 L1721.80,557.02 L1722.46,556.54 L1723.09,556.10 L1723.67,555.68 L1724.21,555.29 L1724.71,554.93 L1725.17,554.59 L1725.60,554.28 L1725.99,554.00 L1726.36,553.74 L1726.69,553.50 L1726.99,553.28 L1727.26,553.09 L1727.50,552.91 L1727.72,552.75 L1727.91,552.61 L1728.09,552.49 L1728.24,552.38 L1728.37,552.29 L1728.48,552.20 L1728.57,552.14 L1728.65,552.08 L1728.72,552.03 L1728.77,552.00 L1728.81,551.97 L1728.84,551.95 L1728.86,551.93 L1728.87,551.92 L1728.88,551.91 L1728.89,551.91 L1728.89,551.91 L1728.89,551.91" fill="none" stroke="#00ffff" stroke-width="9.8" stroke-linejoin="round"/>
<polygon points="262.78,1015.97 290.78,1043.97 262.78,1071.97 234.78,1043.97" fill="#00ffff" stroke="#00ffff" stroke-width="1.5" stroke-linejoin="round"/>
<polygon points="702.61,1020.19 730.61,1048.19 702.61,1076.19 674.61,1048.19" fill="#00ffff" stroke="#00ffff" stroke-width="1.5" stroke-linejoin="round"/>
<polygon points="995.83,960.09 1023.83,988.09 995.83,1016.09 967.83,988.09" fill="#00ffff" stroke="#00ffff" stroke-width="1.5" stroke-linejoin="round"/>
<polygon points="1435.67,735.49 1463.67,763.49 1435.67,791.49 1407.67,763.49" fill="#00ffff" stroke="#00ffff" stroke-width="1.5" stroke-linejoin="round"/>
<polygon points="1728.89,523.91 1756.89,551.91 1728.89,579.91 1700.89,551.91" fill="#00ffff" stroke="#00ffff" stroke-width="1.5" stroke-linejoin="round"/>
<path d="M262.78,1051.20 L262.78,1051.20 L262.78,1051.20 L262.79,1051.20 L262.80,1051.20 L262.82,1051.20 L262.85,1051.20 L262.89,1051.20 L262.95,1051.20 L263.03,1051.20 L263.12,1051.20 L263.23,1051.20 L263.36,1051.20 L263.52,1051.20 L263.71,1051.20 L263.92,1051.20 L264.17,1051.20 L264.45,1051.20 L264.76,1051.20 L265.11,1051.20 L265.49,1051.20 L265.92,1051.20 L266.39,1051.20 L266.91,1051.20 L267.47,1051.20 L268.08,1051.20 L268.74,1051.20 L269.46,1051.19 L270.23,1051.19 L271.05,1051.19 L271.94,1051.19 L272.89,1051.19 L273.90,1051.19 L274.97,1051.19 L276.12,1051.19 L277.33,1051.19 L278.61,1051.19 L279.97,1051.19 L281.40,1051.19 L282.91,1051.18 L284.50,1051.18 L286.17,1051.18 L287.92,1051.18 L289.76,1051.18 L291.69,1051.18 L293.70,1051.18 L295.81,1051.17 L298.01,1051.17 L300.31,1051.17 L302.71,1051.17 L305.20,1051.17 L307.80,1051.17 L310.50,1051.16 L313.30,1051.16 L316.22,1051.16 L319.24,1051.16 L322.38,1051.15 L325.63,1051.15 L328.99,1051.15 L332.48,1051.15 L336.08,1051.14 L339.81,1051.14 L343.65,1051.14 L347.62,1051.14 L351.69,1051.13 L355.88,1051.13 L360.18,1051.13 L364.58,1051.12 L369.08,1051.12 L373.69,1051.12 L378.39,1051.11 L383.19,1051.11 L388.08,1051.10 L393.06,1051.10 L398.13,1051.09 L403.28,1051.09 L408.51,1051.09 L413.82,1051.08 L419.21,1051.08 L424.67,1051.07 L430.20,1051.06 L435.80,1051.06 L441.47,1051.05 L447.19,1051.05 L452.98,1051.04 L458.82,1051.04 L464.72,1051.03 L470.67,1051.02 L476.67,1051.02 L482.72,1051.01 L488.80,1051.00 L494.93,1050.99 L501.10,1050.99 L507.30,1050.98 L513.54,1050.97 L519.80,1050.96 L526.09,1050.95 L532.41,1050.94 L538.75,1050.93 L545.10,1050.92 L551.47,1050.91 L557.86,1050.90 L564.26,1050.89 L570.66,1050.88 L577.08,1050.87 L583.49,1050.86 L589.90,1050.85 L596.31,1050.84 L602.72,1050.83 L609.12,1050.82 L615.50,1050.80 L621.88,1050.79 L628.23,1050.78 L634.57,1050.76 L640.89,1050.75 L647.18,1050.74 L653.44,1050.72 L659.68,1050.71 L665.88,1050.69 L672.05,1050.68 L678.18,1050.66 L684.26,1050.65 L690.31,1050.63 L696.33,1050.61 L702.30,1050.59 L708.24,1050.57 L714.14,1050.55 L720.02,1050.53 L725.86,1050.50 L731.67,1050.48 L737.45,1050.45 L743.21,1050.41 L748.94,1050.38 L754.65,1050.34 L760.33,1050.29 L765.99,1050.25 L771.63,1050.20 L777.25,1050.14 L782.86,1050.08 L788.44,1050.02 L794.02,1049.95 L799.58,1049.87 L805.12,1049.79 L810.66,1049.71 L816.19,1049.61 L821.70,1049.52 L827.22,1049.41 L832.72,1049.30 L838.22,1049.18 L843.72,1049.05 L849.22,1048.92 L854.72,1048.78 L860.22,1048.63 L865.72,1048.47 L871.23,1048.31 L876.74,1048.13 L882.26,1047.95 L887.79,1047.75 L893.32,1047.55 L898.87,1047.34 L904.43,1047.12 L910.00,1046.88 L915.59,1046.64 L921.19,1046.39 L926.81,1046.12 L932.45,1045.84 L938.12,1045.56 L943.80,1045.26 L949.50,1044.95 L955.23,1044.62 L960.99,1044.29 L966.77,1043.94 L972.59,1043.57 L978.43,1043.20 L984.30,1042.81 L990.21,1042.41 L996.14,1041.99 L1002.12,1041.56 L1008.13,1041.12 L1014.18,1040.66 L1020.27,1040.18 L1026.40,1039.69 L1032.57,1039.19 L1038.77,1038.67 L1045.02,1038.13 L1051.29,1037.58 L1057.61,1037.02 L1063.95,1036.44 L1070.33,1035.85 L1076.73,1035.25 L1083.17,1034.63 L1089.63,1034.00 L1096.12,1033.36 L1102.63,1032.70 L1109.16,1032.03 L1115.72,1031.35 L1122.30,1030.65 L1128.89,1029.94 L1135.50,1029.23 L1142.13,1028.50 L1148.78,1027.75 L1155.44,1027.00 L1162.11,1026.24 L1168.79,1025.46 L1175.48,1024.68 L1182.18,1023.88 L1188.89,1023.08 L1195.60,1022.26 L1202.31,1021.43 L1209.03,1020.60 L1215.75,1019.75 L1222.47,1018.90 L1229.19,1018.03 L1235.90,1017.16 L1242.61,1016.28 L1249.32,1015.39 L1256.02,1014.49 L1262.71,1013.58 L1269.39,1012.67 L1276.06,1011.74 L1282.72,1010.81 L1289.37,1009.88 L1296.00,1008.93 L1302.61,1007.98 L1309.20,1007.02 L1315.78,1006.06 L1322.34,1005.09 L1328.87,1004.11 L1335.38,1003.13 L1341.87,1002.14 L1348.33,1001.14 L1354.77,1000.14 L1361.17,999.14 L1367.55,998.13 L1373.89,997.11 L1380.21,996.09 L1386.48,995.07 L1392.73,994.04 L1398.93,993.01 L1405.10,991.97 L1411.23,990.93 L1417.32,989.89 L1423.37,988.84 L1429.37,987.79 L1435.33,986.74 L1441.25,985.69 L1447.13,984.63 L1452.96,983.58 L1458.74,982.52 L1464.48,981.46 L1470.17,980.41 L1475.81,979.35 L1481.41,978.29 L1486.96,977.24 L1492.45,976.18 L1497.90,975.13 L1503.30,974.08 L1508.64,973.04 L1513.93,971.99 L1519.17,970.95 L1524.36,969.91 L1529.49,968.88 L1534.56,967.85 L1539.59,966.83 L1544.55,965.81 L1549.46,964.80 L1554.31,963.79 L1559.10,962.79 L1563.83,961.79 L1568.50,960.81 L1573.11,959.83 L1577.67,958.86 L1582.15,957.89 L1586.58,956.94 L1590.95,955.99 L1595.24,955.05 L1599.48,954.13 L1603.65,953.21 L1607.75,952.30 L1611.79,951.41 L1615.76,950.52 L1619.67,949.65 L1623.50,948.79 L1627.26,947.94 L1630.96,947.11 L1634.58,946.28 L1638.14,945.47 L1641.62,944.68 L1645.03,943.90 L1648.36,943.13 L1651.62,942.38 L1654.81,941.64 L1657.92,940.92 L1660.96,940.22 L1663.92,939.53 L1666.80,938.86 L1669.60,938.20 L1672.32,937.56 L1674.97,936.95 L1677.53,936.35 L1680.02,935.76 L1682.46,935.19 L1684.82,934.64 L1687.10,934.10 L1689.30,933.59 L1691.42,933.09 L1693.46,932.61 L1695.43,932.15 L1697.32,931.71 L1699.14,931.28 L1700.89,930.87 L1702.57,930.48 L1704.18,930.10 L1705.73,929.74 L1707.21,929.40 L1708.62,929.07 L1709.97,928.75 L1711.26,928.45 L1712.49,928.16 L1713.66,927.88 L1714.77,927.62 L1715.83,927.38 L1716.84,927.14 L1717.79,926.92 L1718.69,926.71 L1719.54,926.51 L1720.34,926.32 L1721.09,926.14 L1721.80,925.98 L1722.46,925.82 L1723.09,925.68 L1723.67,925.54 L1724.21,925.41 L1724.71,925.30 L1725.17,925.19 L1725.60,925.09 L1725.99,925.00 L1726.36,924.91 L1726.69,924.83 L1726.99,924.76 L1727.26,924.70 L1727.50,924.64 L1727.72,924.59 L1727.91,924.55 L1728.09,924.51 L1728.24,924.47 L1728.37,924.44 L1728.48,924.41 L1728.57,924.39 L1728.65,924.37 L1728.72,924.36 L1728.77,924.35 L1728.81,924.34 L1728.84,924.33 L1728.86,924.32 L1728.87,924.32 L1728.88,924.32 L1728.89,924.32 L1728.89,924.32 L1728.89,924.32" fill="none" stroke="#ff00ff" stroke-width="9.8" stroke-linejoin="round"/>
<polygon points="231.11,1051.20 278.61,1023.78 278.61,1078.62" fill="#ff00ff" stroke="#ff00ff" stroke-width="1.5" stroke-linejoin="round"/>
<polygon points="670.94,1050.87 718.44,1023.44 718.44,1078.29" fill="#ff00ff" stroke="#ff00ff" stroke-width="1.5" stroke-linejoin="round"/>
<polygon points="964.17,1049.31 1011.67,1021.88 1011.67,1076.73" fill="#ff00ff" stroke="#ff00ff" stroke-width="1.5" stroke-linejoin="round"/>
<polygon points="1404.00,992.99 1451.50,965.57 1451.50,1020.41" fill="#ff00ff" stroke="#ff00ff" stroke-width="1.5" stroke-linejoin="round"/>
<polygon points="1697.22,924.32 1744.72,896.89 1744.72,951.74" fill="#ff00ff" stroke="#ff00ff" stroke-width="1.5" stroke-linejoin="round"/>
</g>
<line x1="296.11" y1="100.60" x2="421.11" y2="100.60" stroke="#000000" stroke-width="9.6" stroke-linecap="round"/>
<rect x="345.44" y="87.85" width="26.89" height="26.90" fill="#000000"/>
<line x1="296.11" y1="190.70" x2="421.11" y2="190.70" stroke="#ff0000" stroke-width="9.6" stroke-linecap="round"/>
<ellipse cx="358.89" cy="191.40" rx="13.44" ry="14.5" fill="#ff0000"/>
<line x1="296.11" y1="280.80" x2="421.11" y2="280.80" stroke="#00ff00" stroke-width="9.6" stroke-linecap="round"/>
<polygon points="358.89,261.90 376.11,291.90 341.67,291.90" fill="#00ff00" stroke="#00ff00" stroke-width="1.2" stroke-linejoin="round"/>
<line x1="296.11" y1="370.90" x2="421.11" y2="370.90" stroke="#0000ff" stroke-width="9.6" stroke-linecap="round"/>
<polygon points="358.89,391.00 376.11,362.00 341.67,362.00" fill="#0000ff" stroke="#0000ff" stroke-width="1.2" stroke-linejoin="round"/>
<line x1="296.11" y1="461.00" x2="421.11" y2="461.00" stroke="#00ffff" stroke-width="9.6" stroke-linecap="round"/>
<polygon points="358.89,444.20 372.50,461.70 358.89,479.20 345.28,461.70" fill="#00ffff" stroke="#00ffff" stroke-width="1.2" stroke-linejoin="round"/>
<line x1="296.11" y1="551.10" x2="421.11" y2="551.10" stroke="#ff00ff" stroke-width="9.6" stroke-linecap="round"/>
<polygon points="339.78,551.80 368.78,534.70 368.78,568.90" fill="#ff00ff" stroke="#ff00ff" stroke-width="1.2" stroke-linejoin="round"/>
</svg>
<svg width="1620" height="1388" viewBox="0 0 1620 1388" style="position:absolute;left:0;top:0">
<text transform="scale(0.943,1)" x="184.20" y="1180.20" style="font-family:'Liberation Sans',Arial,sans-serif;font-weight:bold;font-size:69px">0</text>
<text transform="scale(0.943,1)" x="150.27 184.20" y="957.60" style="font-family:'Liberation Sans',Arial,sans-serif;font-weight:bold;font-size:69px">20</text>
<text transform="scale(0.943,1)" x="150.27 184.20" y="735.00" style="font-family:'Liberation Sans',Arial,sans-serif;font-weight:bold;font-size:69px">40</text>
<text transform="scale(0.943,1)" x="150.27 184.20" y="512.40" style="font-family:'Liberation Sans',Arial,sans-serif;font-weight:bold;font-size:69px">60</text>
<text transform="scale(0.943,1)" x="150.27 184.20" y="289.80" style="font-family:'Liberation Sans',Arial,sans-serif;font-weight:bold;font-size:69px">80</text>
<text transform="scale(0.943,1)" x="116.33 150.27 184.20" y="67.20" style="font-family:'Liberation Sans',Arial,sans-serif;font-weight:bold;font-size:69px">100</text>
<text transform="scale(0.943,1)" x="200.95 234.89 268.82" y="1248.30" style="font-family:'Liberation Sans',Arial,sans-serif;font-weight:bold;font-size:69px">200</text>
<text transform="scale(0.943,1)" x="480.81 514.74 548.67" y="1248.30" style="font-family:'Liberation Sans',Arial,sans-serif;font-weight:bold;font-size:69px">220</text>
<text transform="scale(0.943,1)" x="760.66 794.59 828.53" y="1248.30" style="font-family:'Liberation Sans',Arial,sans-serif;font-weight:bold;font-size:69px">240</text>
<text transform="scale(0.943,1)" x="1040.51 1074.44 1108.38" y="1248.30" style="font-family:'Liberation Sans',Arial,sans-serif;font-weight:bold;font-size:69px">260</text>
<text transform="scale(0.943,1)" x="1320.36 1354.29 1388.23" y="1248.30" style="font-family:'Liberation Sans',Arial,sans-serif;font-weight:bold;font-size:69px">280</text>
<text transform="scale(0.943,1)" x="1600.21 1634.15 1668.08" y="1248.30" style="font-family:'Liberation Sans',Arial,sans-serif;font-weight:bold;font-size:69px">300</text>
<text transform="scale(0.91,1)" x="417.50" y="121.20" style="font-family:'Liberation Sans',Arial,sans-serif;font-weight:bold;font-size:74px" >a</text>
<text transform="scale(1.0,1)" x="380.02" y="211.15" style="font-family:'Liberation Sans',Arial,sans-serif;font-weight:bold;font-size:74px" >b</text>
<text transform="scale(0.97,1)" x="391.95" y="301.10" style="font-family:'Liberation Sans',Arial,sans-serif;font-weight:bold;font-size:74px" >c</text>
<text transform="scale(0.98,1)" x="388.39" y="391.05" style="font-family:'Liberation Sans',Arial,sans-serif;font-weight:bold;font-size:74px" >d</text>
<text transform="scale(1.0,1)" x="379.11" y="481.00" style="font-family:'Liberation Sans',Arial,sans-serif;font-weight:bold;font-size:74px" >e</text>
<text transform="scale(1.0,1)" x="379.54" y="570.95" style="font-family:'Liberation Sans',Arial,sans-serif;font-weight:bold;font-size:74px" >f</text>
<text transform="scale(0.97,1)" style="font-family:'Liberation Serif','Times New Roman',serif;font-weight:bold;font-size:97px"><tspan x="604.12 661.42 698.82 771.90 818.28 858.06 893.74 936.17 965.81 1014.71 1050.13 1088.46" y="1349">Temperature/</tspan><tspan x="1112.86" y="1321">o</tspan><tspan x="1155.99" y="1349">C</tspan></text>
<text transform="translate(87.9,0) rotate(-90) scale(0.97,1)" x="-899.47 -828.37 -779.40 -723.48 -674.51 -627.82 -587.56 -547.95 -520.54 -472.49 -416.02 -387.38" y="0" style="font-family:'Liberation Serif','Times New Roman',serif;font-weight:bold;font-size:97px">Conversion/%</text>
</svg>
</body></html>
